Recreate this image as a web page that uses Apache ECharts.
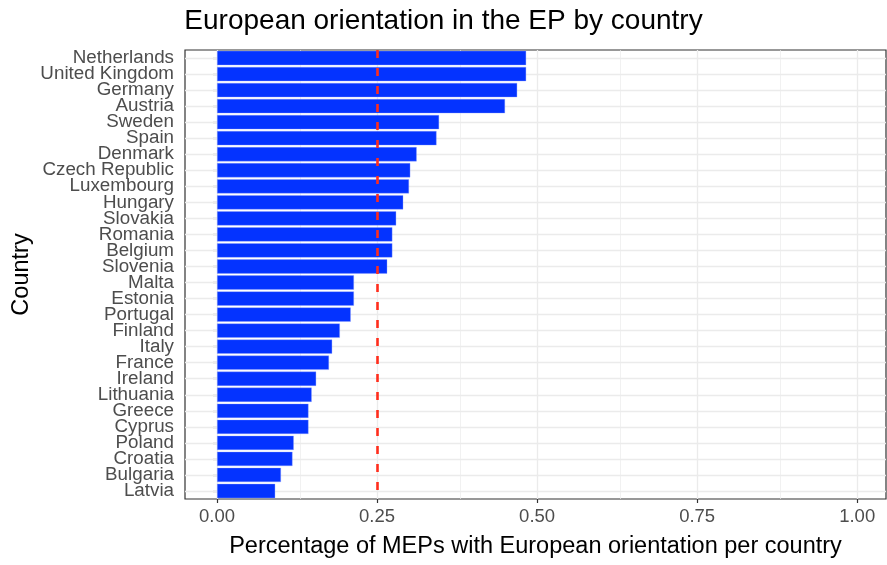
<!DOCTYPE html>
<html>
<head>
<meta charset="utf-8">
<script src="https://cdn.jsdelivr.net/npm/echarts@6/dist/echarts.min.js"></script>
<style>html,body{margin:0;padding:0;background:#fff;}#c{width:887px;height:565px;}</style>
</head>
<body>
<div id="c"></div>
<script>
const categories = ["Netherlands","United Kingdom","Germany","Austria","Sweden","Spain","Denmark","Czech Republic","Luxembourg","Hungary","Slovakia","Romania","Belgium","Slovenia","Malta","Estonia","Portugal","Finland","Italy","France","Ireland","Lithuania","Greece","Cyprus","Poland","Croatia","Bulgaria","Latvia"];
const shares = [0.483,0.483,0.469,0.450,0.347,0.343,0.312,0.302,0.300,0.291,0.280,0.274,0.274,0.266,0.214,0.214,0.209,0.192,0.180,0.175,0.155,0.148,0.143,0.143,0.120,0.118,0.100,0.091];
const xMajorTicks = [0, 0.25, 0.5, 0.75, 1];
const xMinorTicks = [0.125, 0.375, 0.625, 0.875];
const referenceValue = 0.2525;

const FONT = "'Liberation Sans', Arial, Helvetica, sans-serif";
const chart = echarts.init(document.getElementById('c'), null, {renderer: 'canvas'});

const gridLines = [];
categories.forEach(c => gridLines.push({yAxis: c, lineStyle: {color: '#ebebeb', width: 1.3, type: 'solid'}}));
xMajorTicks.forEach(v => gridLines.push({xAxis: v, lineStyle: {color: '#ebebeb', width: 1.3, type: 'solid'}}));
xMinorTicks.forEach(v => gridLines.push({xAxis: v, lineStyle: {color: '#ebebeb', width: 0.7, type: 'solid'}}));

chart.setOption({
  animation: false,
  backgroundColor: '#ffffff',
  title: {
    text: 'European orientation in the EP by country',
    left: 'center',
    top: 2,
    textStyle: {fontFamily: FONT, fontSize: 28, fontWeight: 'normal', color: '#000'}
  },
  grid: {
    left: 185, right: 1, top: 50, bottom: 66,
    containLabel: false,
    outerBoundsMode: 'none',
    show: true, borderColor: '#333333', borderWidth: 1.2, backgroundColor: 'transparent'
  },
  xAxis: {
    type: 'value',
    min: -0.05, max: 1.045,
    name: 'Percentage of MEPs with European orientation per country',
    nameLocation: 'middle',
    nameGap: 36,
    nameMoveOverlap: false,
    nameTextStyle: {fontFamily: FONT, fontSize: 23.5, color: '#000'},
    axisLine: {show: false},
    axisTick: {show: true, length: 4, lineStyle: {color: '#333', width: 1.2}, customValues: xMajorTicks},
    axisLabel: {
      customValues: xMajorTicks,
      formatter: v => v.toFixed(2),
      margin: 8,
      fontFamily: FONT, fontSize: 18.5, color: '#4d4d4d'
    },
    splitLine: {show: false}
  },
  yAxis: {
    type: 'category',
    data: categories,
    inverse: true,
    name: 'Country',
    nameLocation: 'middle',
    nameGap: 151,
    nameMoveOverlap: false,
    nameTextStyle: {fontFamily: FONT, fontSize: 23.5, color: '#000'},
    axisLine: {show: false},
    axisTick: {show: true, alignWithLabel: true, interval: 0, length: 4, lineStyle: {color: '#333', width: 1.2}},
    axisLabel: {interval: 0, hideOverlap: false, margin: 11, fontFamily: FONT, fontSize: 18.8, color: '#4d4d4d'},
    splitLine: {show: false}
  },
  series: [
    {
      type: 'line',
      data: [],
      silent: true,
      markLine: {
        silent: true,
        z: 1,
        symbol: ['none', 'none'],
        label: {show: false},
        data: gridLines
      }
    },
    {
      type: 'bar',
      data: shares,
      barCategoryGap: '10%',
      itemStyle: {color: '#0433ff', borderColor: 'rgba(140,160,255,0.6)', borderWidth: 0.6},
      z: 2,
      markLine: {
        silent: true,
        symbol: ['none', 'none'],
        label: {show: false},
        lineStyle: {color: '#ff2d1c', width: 2.6, type: [8, 10]},
        data: [{xAxis: referenceValue}]
      }
    }
  ]
});
</script>
</body>
</html>
